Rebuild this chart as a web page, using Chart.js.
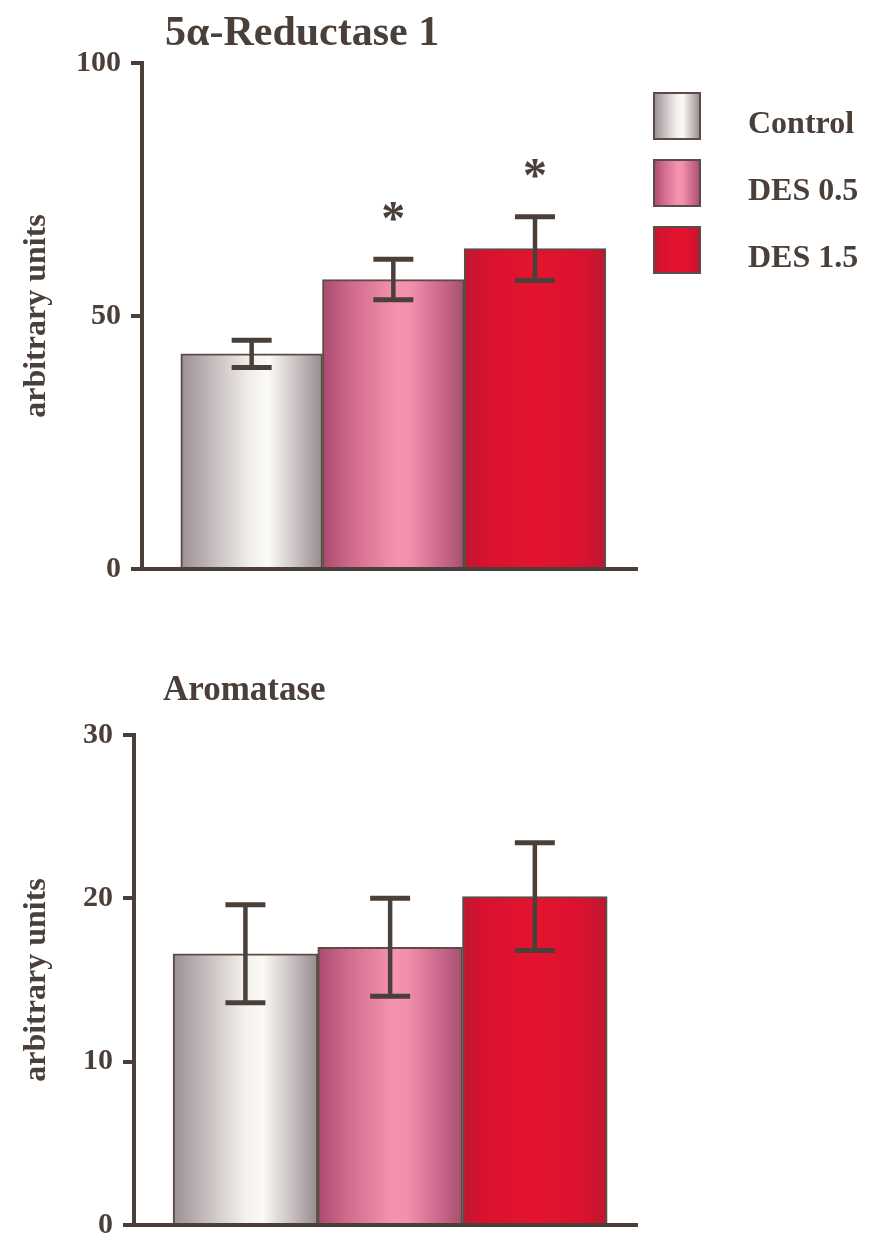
<!DOCTYPE html>
<html>
<head>
<meta charset="utf-8">
<title>5α-Reductase 1 and Aromatase</title>
<script src="https://cdn.jsdelivr.net/npm/chart.js@4.4.1/dist/chart.umd.min.js"></script>
<style>
  html, body { margin: 0; padding: 0; background: #ffffff; }
  #wrap { position: relative; width: 869px; height: 1253px; overflow: hidden; }
  .panel { position: absolute; left: 0; width: 869px; }
</style>
</head>
<body>
<div id="wrap">
  <div class="panel" style="top:0;height:630px"><canvas id="reductase"></canvas></div>
  <div class="panel" style="top:630px;height:623px"><canvas id="aromatase"></canvas></div>
</div>
<script>
// Treatment groups
const groups = ['Control', 'DES 0.5', 'DES 1.5'];

// 5α-Reductase 1 (arbitrary units): mean and SEM, significance flags
const reductaseMean = [42.5, 57.2, 63.3];
const reductaseSem  = [2.7, 4.0, 6.3];
const reductaseSig  = [false, true, true];
const reductaseTicks = [0, 50, 100];

// Aromatase (arbitrary units): mean and SEM
const aromataseMean = [16.6, 17.0, 20.1];
const aromataseSem  = [3.0, 3.0, 3.3];
const aromataseSig  = [false, false, false];
const aromataseTicks = [0, 10, 20, 30];

const INK = '#4b4039';
const FONT = '"Liberation Serif", "Times New Roman", serif';

// Shaded fills, one per group (left edge → right edge)
const shades = [
  [[0, '#9b8f93'], [0.2, '#c0b7b9'], [0.5, '#f4f1ec'], [0.62, '#fbfaf6'], [0.84, '#c3babc'], [1, '#958a8e']],
  [[0, '#a94a6f'], [0.2, '#d06a8c'], [0.52, '#f493b0'], [0.62, '#f38fac'], [0.85, '#c9678b'], [1, '#a4506f']],
  [[0, '#bd1830'], [0.15, '#d8122f'], [0.5, '#e5132f'], [0.85, '#d9122f'], [1, '#bb1730']]
];

function shadeFill(ctx, i, left, width) {
  const g = ctx.createLinearGradient(left, 0, left + width, 0);
  shades[i].forEach(([p, c]) => g.addColorStop(p, c));
  return g;
}

// Error bars, significance stars, panel title and legend
const decorations = {
  id: 'decorations',
  afterDatasetsDraw(chart, args, opts) {
    const { ctx } = chart;
    const y = chart.scales.y;
    const meta = chart.getDatasetMeta(0);
    ctx.save();
    ctx.strokeStyle = INK;
    ctx.fillStyle = INK;
    meta.data.forEach((bar, i) => {
      const hi = y.getPixelForValue(opts.means[i] + opts.sems[i]);
      const lo = y.getPixelForValue(opts.means[i] - opts.sems[i]);
      ctx.lineWidth = 4.5;
      ctx.beginPath();
      ctx.moveTo(bar.x, hi);
      ctx.lineTo(bar.x, lo);
      ctx.stroke();
      ctx.lineWidth = 5;
      ctx.beginPath();
      ctx.moveTo(bar.x - 20, hi);
      ctx.lineTo(bar.x + 20, hi);
      ctx.moveTo(bar.x - 20, lo);
      ctx.lineTo(bar.x + 20, lo);
      ctx.stroke();
      if (opts.sig[i]) {
        ctx.font = 'bold 48px ' + FONT;
        ctx.textAlign = 'center';
        ctx.textBaseline = 'alphabetic';
        const m = ctx.measureText('*');
        const cy = hi - 48;
        ctx.fillText('*', bar.x, cy + (m.actualBoundingBoxAscent - m.actualBoundingBoxDescent) / 2);
      }
    });

    // panel title
    ctx.font = 'bold ' + opts.titleSize + 'px ' + FONT;
    ctx.textAlign = 'left';
    ctx.textBaseline = 'alphabetic';
    ctx.fillText(opts.title, opts.titleX, opts.titleY);

    // legend
    if (opts.legend) {
      const L = opts.legend;
      groups.forEach((name, i) => {
        const top = L.top + i * L.step;
        ctx.fillStyle = shadeFill(ctx, i, L.x, L.size);
        ctx.fillRect(L.x, top, L.size, L.size);
        ctx.lineWidth = 2;
        ctx.strokeStyle = '#5b4c46';
        ctx.strokeRect(L.x, top, L.size, L.size);
        ctx.fillStyle = INK;
        ctx.font = 'bold 32px ' + FONT;
        ctx.fillText(name, L.textX, top + L.size / 2 + 17);
      });
    }
    ctx.restore();
  }
};

function buildChart(canvasId, cfg) {
  const canvasH = cfg.height;
  const xAxisH = 12;
  return new Chart(document.getElementById(canvasId), {
    type: 'bar',
    data: {
      datasets: [{
        data: cfg.means.map((v, i) => ({ x: i + 1, y: v })),
        backgroundColor(c) {
          const chart = c.chart;
          if (!chart.chartArea || c.dataIndex === undefined) return '#cccccc';
          const xs = chart.scales.x;
          const w = xs.getPixelForValue(2) - xs.getPixelForValue(1);
          const cx = xs.getPixelForValue(c.dataIndex + 1);
          return shadeFill(chart.ctx, c.dataIndex, cx - w / 2, w);
        },
        borderColor: '#5b4c46',
        borderWidth: 2,
        categoryPercentage: 1,
        barPercentage: 1
      }]
    },
    options: {
      responsive: true,
      maintainAspectRatio: false,
      devicePixelRatio: 1,
      animation: false,
      events: [],
      layout: {
        padding: {
          left: 0,
          top: cfg.areaTop,
          right: 869 - cfg.areaRight,
          bottom: canvasH - cfg.areaBottom - xAxisH
        }
      },
      plugins: {
        legend: { display: false },
        tooltip: { enabled: false },
        decorations: {
          means: cfg.means, sems: cfg.sems, sig: cfg.sig,
          title: cfg.title, titleX: cfg.titleX, titleY: cfg.titleY, titleSize: cfg.titleSize,
          legend: cfg.legend || null
        }
      },
      scales: {
        x: {
          type: 'linear',
          offset: false,
          min: cfg.xMin,
          max: cfg.xMax,
          afterBuildTicks(s) { s.ticks = groups.map((g, i) => ({ value: i + 1 })); },
          afterFit(s) { s.height = xAxisH; },
          ticks: { display: false },
          grid: { display: false, offset: false },
          border: { display: true, color: INK, width: 4 }
        },
        y: {
          min: cfg.ticks[0],
          max: cfg.ticks[cfg.ticks.length - 1],
          afterBuildTicks(s) { s.ticks = cfg.ticks.map(v => ({ value: v })); },
          afterFit(s) { s.width = cfg.axisLeft; },
          ticks: {
            color: INK,
            padding: 10,
            font: { family: FONT, size: 30, weight: 'bold' }
          },
          grid: {
            display: true,
            drawOnChartArea: false,
            drawTicks: true,
            tickLength: 11,
            tickWidth: 4,
            lineWidth: 4,
            color: INK
          },
          border: { display: true, color: INK, width: 4 },
          title: {
            display: true,
            text: 'arbitrary units',
            color: INK,
            padding: { top: 18, bottom: 0 },
            font: { family: FONT, size: 32, weight: 'bold', lineHeight: 1.2 }
          }
        }
      }
    },
    plugins: [decorations]
  });
}

buildChart('reductase', {
  height: 630,
  means: reductaseMean, sems: reductaseSem, sig: reductaseSig, ticks: reductaseTicks,
  title: '5α-Reductase 1', titleX: 165, titleY: 45, titleSize: 42,
  axisLeft: 142, areaTop: 63, areaBottom: 569, areaRight: 637,
  xMin: 0.226, xMax: 3.72,
  legend: { x: 654, top: 93, step: 67, size: 46, textX: 748 }
});

buildChart('aromatase', {
  height: 623,
  means: aromataseMean, sems: aromataseSem, sig: aromataseSig, ticks: aromataseTicks,
  title: 'Aromatase', titleX: 163, titleY: 70, titleSize: 35,
  axisLeft: 134, areaTop: 105, areaBottom: 604, areaRight: 637,
  xMin: 0.23, xMax: 3.706
});
</script>
</body>
</html>
